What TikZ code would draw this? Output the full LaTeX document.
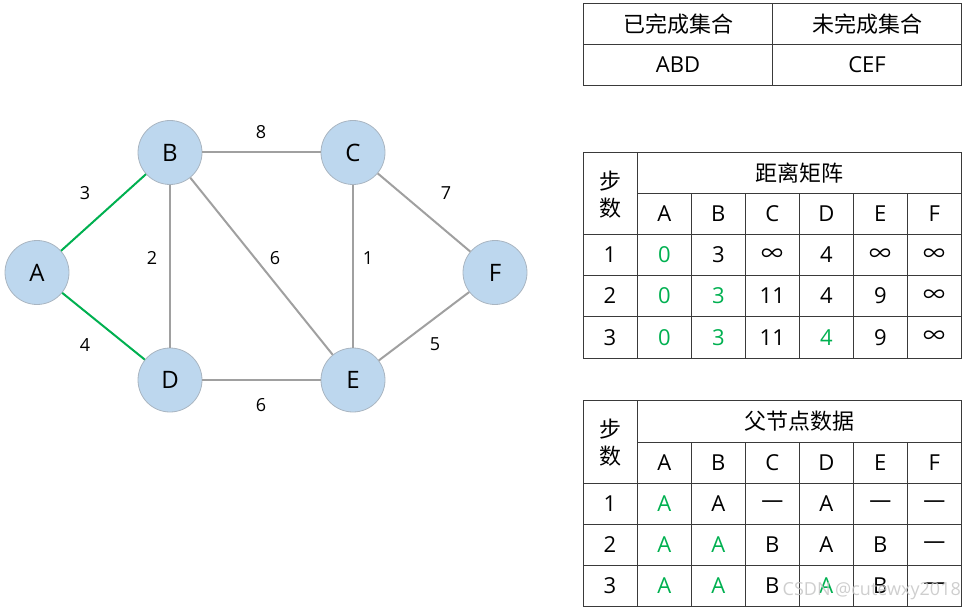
\documentclass[tikz,border=0pt]{standalone}
\usepackage{fontspec}
\setmainfont{Open Sans}
\newfontfamily\cjk{Noto Sans CJK SC}
\definecolor{nodefill}{HTML}{BDD7EE}
\definecolor{nodeline}{HTML}{A9B5C1}
\definecolor{edgegray}{HTML}{A0A0A0}
\definecolor{okgreen}{HTML}{00B050}
\definecolor{gridline}{HTML}{3A3A3A}
\newcommand{\infsym}{{\cjk ∞}}
\begin{document}
\begin{tikzpicture}[x=1pt,y=-1pt,
  vertex/.style={circle,draw=nodeline,line width=0.8pt,fill=nodefill,minimum size=64pt,inner sep=0pt,font=\fontsize{24}{24}\selectfont},
  edge/.style={draw=edgegray,line width=2pt},
  tree/.style={draw=okgreen,line width=2pt},
  wlabel/.style={font=\fontsize{18}{18}\selectfont,inner sep=0pt},
  grid/.style={draw=gridline,line width=0.9pt},
  cell/.style={font=\fontsize{22}{22}\selectfont,inner sep=0pt},
  head/.style={font=\cjk\fontsize{22}{22}\selectfont,inner sep=0pt},
  greentext/.style={text=okgreen},
  blacktext/.style={text=black}]
\useasboundingbox (0,0) rectangle (965,609);
% graph
\node[vertex] (A) at (37,272.5) {A};
\node[vertex] (B) at (170,152.5) {B};
\node[vertex] (C) at (353,152.5) {C};
\node[vertex] (D) at (170,380) {D};
\node[vertex] (E) at (353,380) {E};
\node[vertex] (F) at (495,272.5) {F};
\draw[tree] (A) -- (B);
\draw[tree] (A) -- (D);
\draw[edge] (B) -- (C);
\draw[edge] (B) -- (D);
\draw[edge] (B) -- (E);
\draw[edge] (C) -- (E);
\draw[edge] (C) -- (F);
\draw[edge] (D) -- (E);
\draw[edge] (E) -- (F);
\node[wlabel] (lAB) at (85,193) {3};
\node[wlabel] (lBC) at (261,132) {8};
\node[wlabel] (lCF) at (446,193) {7};
\node[wlabel] (lBD) at (152,258) {2};
\node[wlabel] (lBE) at (275,258) {6};
\node[wlabel] (lCE) at (368,258) {1};
\node[wlabel] (lAD) at (85,345) {4};
\node[wlabel] (lEF) at (435,344) {5};
\node[wlabel] (lDE) at (261,405) {6};
% table 1
\draw[grid] (583.5,3.5) rectangle (961,85);
\draw[grid] (583.5,44) -- (961,44);
\draw[grid] (772,3.5) -- (772,85);
\node[head] (t1a) at (678,24) {已完成集合};
\node[head] (t1b) at (867,24) {未完成集合};
\node[cell] (t1c) at (678,65) {ABD};
\node[cell] (t1d) at (867,65) {CEF};
% table 2
\draw[grid] (583.5,152.7) rectangle (961,358);
\draw[grid] (637.3,193.3) -- (961,193.3);
\foreach \yy in {234.7,275.3,316.7} \draw[grid] (583.5,\yy) -- (961,\yy);
\draw[grid] (637.3,152.7) -- (637.3,358);
\foreach \xx in {691.3,745.3,799.3,853.3,907.3} \draw[grid] (\xx,193.3) -- (\xx,358);
\node[head] (t2s1) at (610,181) {步};
\node[head] (t2s2) at (610,208) {数};
\node[head] (t2h) at (799,173) {距离矩阵};
\foreach \xx/\t [count=\i] in {664.3/A,718.3/B,772.3/C,826.3/D,880.3/E,934.3/F}
  \node[cell] (t2c\i) at (\xx,214) {\t};
\foreach \r/\yy in {1/255,2/296,3/337.3}
  \node[cell] (t2r\r) at (610,\yy) {\r};
\foreach \xx/\t/\s [count=\i] in {664.3/0/greentext,718.3/3/blacktext,772.3/\infsym/blacktext,826.3/4/blacktext,880.3/\infsym/blacktext,934.3/\infsym/blacktext}
  \node[cell,\s] (t2a\i) at (\xx,255) {\t};
\foreach \xx/\t/\s [count=\i] in {664.3/0/greentext,718.3/3/greentext,772.3/11/blacktext,826.3/4/blacktext,880.3/9/blacktext,934.3/\infsym/blacktext}
  \node[cell,\s] (t2b\i) at (\xx,296) {\t};
\foreach \xx/\t/\s [count=\i] in {664.3/0/greentext,718.3/3/greentext,772.3/11/blacktext,826.3/4/greentext,880.3/9/blacktext,934.3/\infsym/blacktext}
  \node[cell,\s] (t2d\i) at (\xx,337.3) {\t};
% table 3
\draw[grid] (583.5,400.7) rectangle (961,606);
\draw[grid] (637.3,442) -- (961,442);
\foreach \yy in {483.3,524,565.3} \draw[grid] (583.5,\yy) -- (961,\yy);
\draw[grid] (637.3,400.7) -- (637.3,606);
\foreach \xx in {691.3,745.3,799.3,853.3,907.3} \draw[grid] (\xx,442) -- (\xx,606);
\node[head] (t3s1) at (610,429) {步};
\node[head] (t3s2) at (610,456) {数};
\node[head] (t3h) at (799,421) {父节点数据};
\foreach \xx/\t [count=\i] in {664.3/A,718.3/B,772.3/C,826.3/D,880.3/E,934.3/F}
  \node[cell] (t3c\i) at (\xx,463) {\t};
\foreach \r/\yy in {1/504,2/545,3/586}
  \node[cell] (t3r\r) at (610,\yy) {\r};
\foreach \xx/\t/\s [count=\i] in {664.3/A/greentext,718.3/A/blacktext,772.3/—/blacktext,826.3/A/blacktext,880.3/—/blacktext,934.3/—/blacktext}
  \node[cell,\s] (t3a\i) at (\xx,504) {\t};
\foreach \xx/\t/\s [count=\i] in {664.3/A/greentext,718.3/A/greentext,772.3/B/blacktext,826.3/A/blacktext,880.3/B/blacktext,934.3/—/blacktext}
  \node[cell,\s] (t3b\i) at (\xx,545) {\t};
\foreach \xx/\t/\s [count=\i] in {664.3/A/greentext,718.3/A/greentext,772.3/B/blacktext,826.3/A/greentext,880.3/B/blacktext,934.3/—/blacktext}
  \node[cell,\s] (t3d\i) at (\xx,586) {\t};
% watermark
\node[font=\fontsize{18}{18}\selectfont,text=gray!45,text opacity=0.85,anchor=east,inner sep=0pt] (wm) at (961,591) {CSDN @cutewxy2018};
\end{tikzpicture}
\end{document}
